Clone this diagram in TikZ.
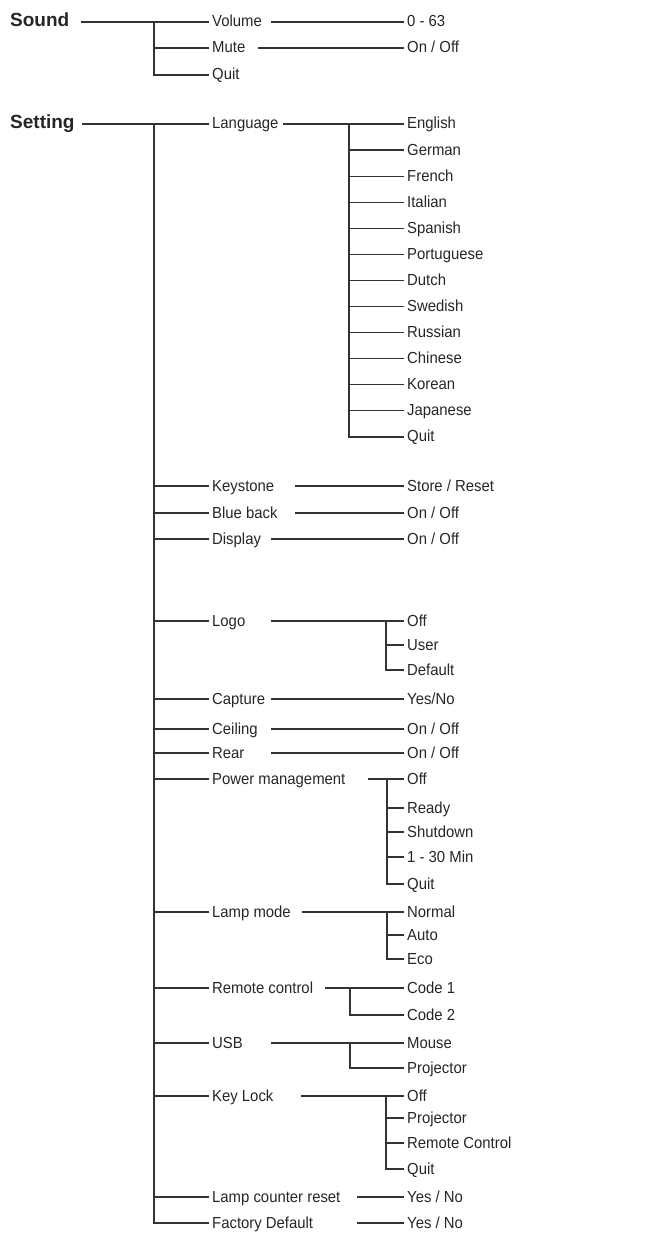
\documentclass[tikz,border=0pt]{standalone}
\usepackage{fontspec}
\setmainfont{Liberation Sans}
\newfontfamily\menufont{Liberation Sans}[FakeStretch=0.93]
\usepackage{tikz}

\begin{document}
\begin{tikzpicture}[
        x=1pt, y=-1pt,
        font=\menufont\fontsize{16}{19}\selectfont,
        item/.style={anchor=west, inner xsep=3pt, inner ysep=0pt, text height=10pt, text depth=0pt, text=black!85},
        head/.style={item, inner xsep=0pt, font=\normalfont\bfseries\fontsize{19}{22}\selectfont},
        link/.style={draw=black!80, line width=1.2pt}
    ]

    \useasboundingbox (0,0) rectangle (646,1233);

    % ==========================================
    % Sound
    % ==========================================
    \node[head] (sound) at (10,22) {Sound};
    \node[item] (vol) at (209,22) {Volume};
    \node[item] (mute) at (209,48) {Mute};
    \node[item] (quit_s) at (209,75) {Quit};
    \node[item] (vol_v) at (404,22) {0 - 63};
    \node[item] (mute_v) at (404,48) {On / Off};

    \coordinate (sound_l) at (81,22);
    \coordinate (sound_t) at (154,22);
    \coordinate (vol_l) at (271,22);
    \coordinate (mute_l) at (258,48);

    \draw[link] (sound_l) -- (vol.west);
    \draw[link] (sound_t) |- (quit_s.west);
    \draw[link] (mute.west -| sound_t) -- (mute.west);
    \draw[link] (vol_l) -- (vol_v.west);
    \draw[link] (mute_l) -- (mute_v.west);

    % ==========================================
    % Setting: first level
    % ==========================================
    \node[head] (setting) at (10,124) {Setting};
    \node[item] (lang) at (209,124) {Language};
    \node[item] (key) at (209,486) {Keystone};
    \node[item] (blue) at (209,513) {Blue back};
    \node[item] (disp) at (209,539) {Display};
    \node[item] (logo) at (209,621) {Logo};
    \node[item] (cap) at (209,699) {Capture};
    \node[item] (ceil) at (209,729) {Ceiling};
    \node[item] (rear) at (209,753) {Rear};
    \node[item] (pwr) at (209,779) {Power management};
    \node[item] (lamp) at (209,912) {Lamp mode};
    \node[item] (rem) at (209,988) {Remote control};
    \node[item] (usb) at (209,1043) {USB};
    \node[item] (klock) at (209,1096) {Key Lock};
    \node[item] (lreset) at (209,1197) {Lamp counter reset};
    \node[item] (fdef) at (209,1223) {Factory Default};

    \coordinate (set_l) at (82,124);
    \coordinate (set_t) at (154,124);
    \draw[link] (set_l) -- (lang.west);
    \draw[link] (set_t) |- (fdef.west);
    \foreach \n in {key,blue,disp,logo,cap,ceil,rear,pwr,lamp,rem,usb,klock,lreset} {
        \draw[link] (\n.west -| set_t) -- (\n.west);
    }

    % single values
    \foreach \n/\y/\xs/\val in {key/486/295/{Store / Reset}, blue/513/295/{On / Off}, disp/539/271/{On / Off},
            cap/699/271/{Yes/No}, ceil/729/271/{On / Off}, rear/753/271/{On / Off},
            lreset/1197/357/{Yes / No}, fdef/1223/357/{Yes / No}} {
        \node[item] (\n_v) at (404,\y) {\val};
        \coordinate (\n_l) at (\xs,\y);
        \draw[link] (\n_l) -- (\n_v.west);
    }

    % ==========================================
    % Setting: sub menus
    % ==========================================
    % Language
    \foreach \val [count=\i] in {English,German,French,Italian,Spanish,Portuguese,Dutch,Swedish,Russian,Chinese,Korean,Japanese,Quit} {
        \node[item] (lang_\i) at (404,124+26.08*\i-26.08) {\val};
    }
    \coordinate (lang_l) at (283,124);
    \coordinate (lang_t) at (349,124);
    \draw[link] (lang_l) -- (lang_1.west);
    \draw[link] (lang_t) |- (lang_13.west);
    \foreach \i in {2,...,12} {
        \draw[link] (lang_\i.west -| lang_t) -- (lang_\i.west);
    }

    % Logo
    \foreach \val/\y [count=\i] in {Off/621, User/645, Default/670} {
        \node[item] (logo_\i) at (404,\y) {\val};
    }
    \coordinate (logo_l) at (271,621);
    \coordinate (logo_t) at (386,621);
    \draw[link] (logo_l) -- (logo_1.west);
    \draw[link] (logo_t) |- (logo_3.west);
    \draw[link] (logo_2.west -| logo_t) -- (logo_2.west);

    % Power management
    \foreach \val/\y [count=\i] in {Off/779, Ready/808, Shutdown/832, 1 - 30 Min/857, Quit/884} {
        \node[item] (pwr_\i) at (404,\y) {\val};
    }
    \coordinate (pwr_l) at (368,779);
    \coordinate (pwr_t) at (387,779);
    \draw[link] (pwr_l) -- (pwr_1.west);
    \draw[link] (pwr_t) |- (pwr_5.west);
    \foreach \i in {2,3,4} {
        \draw[link] (pwr_\i.west -| pwr_t) -- (pwr_\i.west);
    }

    % Lamp mode
    \foreach \val/\y [count=\i] in {Normal/912, Auto/935, Eco/959} {
        \node[item] (lamp_\i) at (404,\y) {\val};
    }
    \coordinate (lamp_l) at (302,912);
    \coordinate (lamp_t) at (387,912);
    \draw[link] (lamp_l) -- (lamp_1.west);
    \draw[link] (lamp_t) |- (lamp_3.west);
    \draw[link] (lamp_2.west -| lamp_t) -- (lamp_2.west);

    % Remote control
    \node[item] (rem_1) at (404,988) {Code 1};
    \node[item] (rem_2) at (404,1015) {Code 2};
    \coordinate (rem_l) at (325,988);
    \coordinate (rem_t) at (350,988);
    \draw[link] (rem_l) -- (rem_1.west);
    \draw[link] (rem_t) |- (rem_2.west);

    % USB
    \node[item] (usb_1) at (404,1043) {Mouse};
    \node[item] (usb_2) at (404,1068) {Projector};
    \coordinate (usb_l) at (271,1043);
    \coordinate (usb_t) at (350,1043);
    \draw[link] (usb_l) -- (usb_1.west);
    \draw[link] (usb_t) |- (usb_2.west);

    % Key Lock
    \foreach \val/\y [count=\i] in {Off/1096, Projector/1118, Remote Control/1143, Quit/1169} {
        \node[item] (klock_\i) at (404,\y) {\val};
    }
    \coordinate (klock_l) at (301,1096);
    \coordinate (klock_t) at (386,1096);
    \draw[link] (klock_l) -- (klock_1.west);
    \draw[link] (klock_t) |- (klock_4.west);
    \foreach \i in {2,3} {
        \draw[link] (klock_\i.west -| klock_t) -- (klock_\i.west);
    }

\end{tikzpicture}
\end{document}
